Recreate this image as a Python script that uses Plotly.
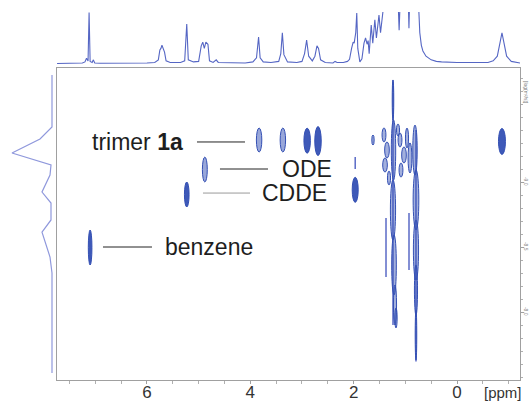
import plotly.graph_objects as go

# ---------------- data ----------------
# 1D 1H spectrum on top (ppm, relative intensity; >100 is clipped off the top)
spec_ppm = [7.74, 7.4, 7.25, 7.20, 7.17, 7.14, 7.12, 7.10, 7.06, 7.04, 7.01, 6.9, 6.5, 6.0, 5.85, 5.78,
            5.75, 5.73, 5.71, 5.68, 5.66, 5.63, 5.55, 5.35, 5.27, 5.23, 5.20, 5.10, 5.00, 4.95, 4.92,
            4.89, 4.86, 4.82, 4.79, 4.72, 4.66, 4.62, 4.4, 4.1, 3.95, 3.88, 3.84, 3.81, 3.75, 3.6,
            3.45, 3.41, 3.38, 3.35, 3.28, 3.1, 3.0, 2.95, 2.91, 2.87, 2.80, 2.75, 2.71, 2.68, 2.64,
            2.55, 2.4, 2.36, 2.32, 2.20, 2.12, 2.08, 2.04, 2.01, 1.99, 1.96, 1.94, 1.92, 1.88, 1.84,
            1.80, 1.77, 1.74, 1.72, 1.70, 1.66, 1.63, 1.59, 1.56, 1.51, 1.48, 1.43, 1.40, 1.15, 1.12,
            1.09, 0.95, 0.93, 0.91, 0.76, 0.74, 0.72, 0.69, 0.66, 0.60, 0.5, 0.4, 0.3, 0.0, -0.4,
            -0.6, -0.7, -0.78, -0.84, -0.87, -0.90, -0.96, -1.05, -1.15, -1.22]
spec_int = [1, 1.5, 2, 4, 11, 6, 99, 5, 3, 8, 2, 1.5, 1.5, 2, 3, 8,
            27, 30, 36, 28, 23, 6, 3, 3, 6, 77, 8, 4, 5, 35, 42,
            30, 42, 38, 6, 3, 8, 3, 2, 2, 4, 12, 52, 12, 4, 3,
            5, 20, 60, 18, 4, 3, 5, 20, 46, 15, 6, 15, 35, 30, 8,
            3, 2, 5, 3, 3, 5, 9, 30, 42, 40, 60, 98, 30, 4, 10,
            40, 50, 38, 45, 20, 75, 40, 85, 50, 94, 60, 99, 130, 150, 65,
            150, 150, 69, 150, 150, 100, 60, 36, 25, 15, 8, 5, 4, 3, 2.5,
            3, 6, 15, 45, 60, 45, 15, 5, 3, 2]

# diffusion projection on the left (intensity, log D)
proj_int = [0, 0, 30, 100, 2.5, 5, 25, 2.5, 2.5, 25, 5, 0, 0]
proj_logd = [-9.823, -9.423, -9.331, -9.223, -9.131, -9.054, -8.923, -8.838, -8.708, -8.615,
             -8.423, -8.300, -7.531]

# assigned cross peaks (centre ppm, centre log D, width ppm, height log D)
peak_ppm = [3.83, 3.37, 2.90, 2.69, -0.87, 4.88, 5.23, 7.10, 1.97]
peak_logd = [-9.323, -9.323, -9.318, -9.315, -9.312, -9.096, -8.904, -8.496, -8.940]
peak_w = [0.105, 0.105, 0.125, 0.125, 0.135, 0.095, 0.09, 0.07, 0.116]
peak_h = [0.185, 0.185, 0.192, 0.223, 0.200, 0.192, 0.192, 0.269, 0.192]
peak_solid = [False, False, True, True, True, False, True, True, True]

# aliphatic contour cluster (centre ppm, centre log D, width ppm, height log D)
ali_ppm = [1.239, 1.229, 1.239, 1.219, 1.200, 1.181, 0.813, 0.794, 0.794, 0.794, 0.794,
           1.626, 1.413, 1.355, 1.393, 1.316, 1.103, 1.026, 1.084, 0.968, 0.910, 1.142]
ali_logd = [-9.631, -9.246, -8.785, -8.362, -8.054, -7.954, -9.246, -8.862, -8.477, -8.169, -7.823,
            -9.323, -9.362, -9.246, -9.131, -9.031, -9.323, -9.208, -9.092, -9.338, -9.185, -9.400]
ali_w = [0.03, 0.085, 0.1, 0.09, 0.06, 0.045, 0.085, 0.11, 0.1, 0.06, 0.03,
         0.045, 0.075, 0.09, 0.09, 0.06, 0.075, 0.09, 0.075, 0.06, 0.075, 0.06]
ali_h = [0.308, 0.462, 0.462, 0.462, 0.308, 0.154, 0.385, 0.462, 0.462, 0.385, 0.385,
         0.077, 0.108, 0.123, 0.108, 0.108, 0.108, 0.123, 0.108, 0.154, 0.231, 0.092]

# thin streaks (ppm, log D start, log D end)
streak_ppm = [1.374, 0.929, 1.97, 1.239, 0.794]
streak_d0 = [-8.723, -8.762, -9.192, -9.780, -9.400]
streak_d1 = [-8.269, -8.323, -9.100, -7.900, -7.620]

# labels with leader lines
label_text = ["trimer <b>1a</b>", "ODE", "CDDE", "benzene"]
label_ppm = [7.10, 3.42, 3.81, 5.69]
label_logd = [-9.308, -9.100, -8.915, -8.500]
lead_ppm0 = [5.032, 4.587, 4.916, 6.851]
lead_ppm1 = [4.103, 3.658, 4.006, 5.903]
lead_color = ["#222222", "#222222", "#9a9a9a", "#222222"]

x_ticks = [6, 4, 2, 0]
y_ticks = [-9.0, -8.5, -8.0]

# ---------------- figure ----------------
XR = [7.741, -1.219]
YR = [-7.477, -9.877]
XD = [57 / 530, 520 / 530]
YD = [(402 - 380) / 402, (402 - 68) / 402]
BLUE = "#3450b4"
FONT = "Liberation Sans, Arial"

fig = go.Figure()

fig.add_trace(go.Scatter(x=[XR[0]], y=[YR[0]], mode="markers", marker=dict(opacity=0),
                         xaxis="x", yaxis="y", hoverinfo="skip", showlegend=False))

# top spectrum
fig.add_trace(go.Scatter(x=spec_ppm, y=spec_int, mode="lines",
                         line=dict(color="#5566c4", width=1.1),
                         xaxis="x2", yaxis="y2", showlegend=False))

# left projection
fig.add_trace(go.Scatter(x=proj_int, y=proj_logd, mode="lines",
                         line=dict(color="#8f98dc", width=1.2),
                         xaxis="x3", yaxis="y3", showlegend=False))

# streaks
for p, d0, d1 in zip(streak_ppm, streak_d0, streak_d1):
    fig.add_trace(go.Scatter(x=[p, p], y=[d0, d1], mode="lines",
                             line=dict(color="#5a6ac6", width=1.5),
                             xaxis="x", yaxis="y", showlegend=False))

shapes = []
for p, d, w, h, s in zip(peak_ppm, peak_logd, peak_w, peak_h, peak_solid):
    shapes.append(dict(type="circle", xref="x", yref="y",
                       x0=p - w / 2, x1=p + w / 2, y0=d - h / 2, y1=d + h / 2,
                       line=dict(color=BLUE, width=1),
                       fillcolor="rgba(52,80,180,0.95)" if s else "rgba(52,80,180,0.5)"))
for p, d, w, h in zip(ali_ppm, ali_logd, ali_w, ali_h):
    shapes.append(dict(type="circle", xref="x", yref="y",
                       x0=p - w / 2, x1=p + w / 2, y0=d - h / 2, y1=d + h / 2,
                       line=dict(color=BLUE, width=1),
                       fillcolor="rgba(52,80,180,0.45)"))
for a, b, d, c in zip(lead_ppm0, lead_ppm1, label_logd, lead_color):
    shapes.append(dict(type="line", xref="x", yref="y", x0=a, x1=b, y0=d, y1=d,
                       line=dict(color=c, width=1)))

annotations = []
for t, p, d in zip(label_text, label_ppm, label_logd):
    annotations.append(dict(text=t, x=p, y=d, xref="x", yref="y", xanchor="left",
                            yanchor="middle", showarrow=False,
                            font=dict(family=FONT, size=23, color="#1e1e1e")))
annotations.append(dict(text="[ppm]", x=503 / 530, y=(402 - 392) / 402, xref="paper", yref="paper",
                        xanchor="center", yanchor="middle", showarrow=False,
                        font=dict(family=FONT, size=15, color="#333")))
annotations.append(dict(text="[log(m²/s)]", x=526 / 530, y=(402 - 92) / 402, xref="paper",
                        yref="paper", xanchor="center", yanchor="middle", showarrow=False,
                        textangle=90, font=dict(family=FONT, size=5, color="#777")))

fig.update_layout(
    width=530, height=402,
    margin=dict(l=0, r=0, t=0, b=0, autoexpand=False),
    paper_bgcolor="white", plot_bgcolor="rgba(0,0,0,0)",
    shapes=shapes, annotations=annotations,
    xaxis=dict(domain=XD, range=XR, showgrid=False, zeroline=False, automargin=False,
               showline=True, linecolor="#a0a0a0", linewidth=1, mirror=True,
               ticks="outside", ticklen=3, tickcolor="#a0a0a0", ticklabelstandoff=-6,
               tickvals=x_ticks, ticktext=[str(v) for v in x_ticks],
               minor=dict(dtick=0.5, ticks="outside", ticklen=3, tickcolor="#b0b0b0"),
               tickfont=dict(family=FONT, size=17, color="#333")),
    yaxis=dict(domain=YD, range=YR, showgrid=False, zeroline=False, side="right", automargin=False,
               showline=True, linecolor="#a0a0a0", linewidth=1, mirror=True,
               ticks="outside", ticklen=3, tickcolor="#a0a0a0", ticklabelstandoff=-2,
               tickvals=y_ticks, ticktext=[f"{v:.1f}" for v in y_ticks], tickangle=90,
               minor=dict(dtick=0.1, ticks="outside", ticklen=2, tickcolor="#b0b0b0"),
               tickfont=dict(family=FONT, size=5, color="#888")),
    xaxis2=dict(domain=XD, range=XR, anchor="y2", visible=False, automargin=False),
    yaxis2=dict(domain=[(402 - 66) / 402, (402 - 12) / 402], range=[-3.85, 100],
                anchor="x2", visible=False, automargin=False),
    xaxis3=dict(domain=[5 / 530, 55 / 530], range=[117.5, -7.5], anchor="y3", visible=False,
                automargin=False),
    yaxis3=dict(domain=YD, range=YR, anchor="x3", visible=False, automargin=False),
)

fig.write_html("out.html", config={"displayModeBar": False},
               post_script="document.body.style.margin='0';document.body.style.padding='0';")
